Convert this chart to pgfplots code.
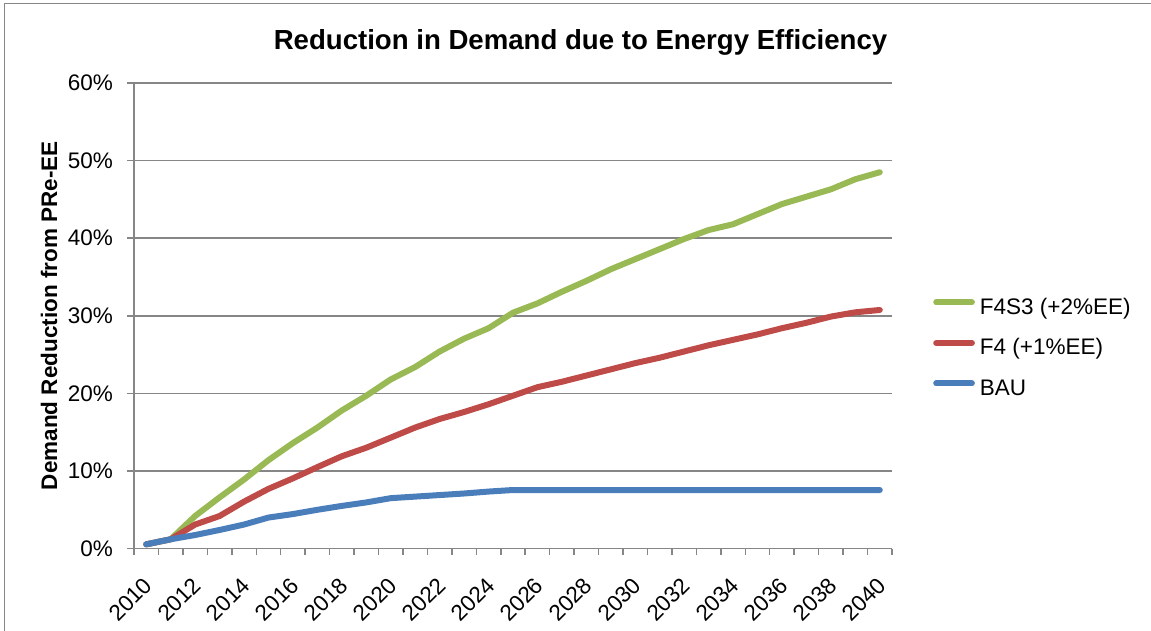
\documentclass[border=0pt]{standalone}
\usepackage{pgfplots}
\pgfplotsset{compat=1.18}
\usepackage{pgfplotstable}
\usepackage{fontspec}
\setmainfont{Liberation Sans}

\definecolor{gridgray}{HTML}{868686}
\definecolor{baublue}{HTML}{4A7EBB}
\definecolor{fourred}{HTML}{BE4B48}
\definecolor{fsgreen}{HTML}{98B954}

% Demand reduction (% of pre-EE demand) by scenario
\pgfplotstableread{
year bau   f4    f4s3
2010 0.55  0.55  0.55
2011 1.2   1.2   1.2
2012 1.75  3.1   4.2
2013 2.4   4.2   6.6
2014 3.1   6.05  8.9
2015 4.0   7.7   11.4
2016 4.45  9.05  13.6
2017 5.0   10.5  15.6
2018 5.5   11.9  17.8
2019 5.95  13.0  19.7
2020 6.5   14.3  21.8
2021 6.7   15.6  23.4
2022 6.9   16.7  25.4
2023 7.1   17.6  27.05
2024 7.35  18.6  28.4
2025 7.55  19.7  30.4
2026 7.55  20.8  31.6
2027 7.55  21.5  33.1
2028 7.55  22.3  34.5
2029 7.55  23.1  36.0
2030 7.55  23.9  37.3
2031 7.55  24.6  38.6
2032 7.55  25.4  39.9
2033 7.55  26.2  41.05
2034 7.55  26.9  41.8
2035 7.55  27.6  43.1
2036 7.55  28.4  44.4
2037 7.55  29.1  45.35
2038 7.55  29.9  46.3
2039 7.55  30.45 47.6
2040 7.55  30.75 48.5
}\demand

\newcommand\chartfont{\fontsize{22.5}{27}\selectfont}
\newcommand\titlefont{\fontsize{27.6}{33}\selectfont\bfseries}

\begin{document}
\chartfont
\begin{tikzpicture}[x=1pt, y=1pt]
\path[use as bounding box] (0,0) rectangle (1151,631);
% chart frame (left and top edges)
\draw[gridgray, line width=1.5pt] (4.5,0) -- (4.5,627.5) -- (1151,627.5);
\begin{axis}[
  at={(134pt,82.4pt)}, anchor=south west,
  scale only axis, width=758pt, height=465.6pt,
  xmin=2009.5, xmax=2040.5, ymin=0, ymax=60,
  clip=false,
  axis x line*=bottom, axis y line*=left,
  axis line style={gridgray, line width=1.5pt},
  xtick={2010,2012,...,2040},
  xticklabels={2010,2012,2014,2016,2018,2020,2022,2024,2026,2028,2030,2032,2034,2036,2038,2040},
  minor xtick={2009.5,2010.5,...,2040.5},
  major x tick style={draw=none},
  minor x tick style={gridgray, line width=1.5pt},
  minor tick length=6pt,
  ytick={0,10,...,60},
  yticklabels={0\%,10\%,20\%,30\%,40\%,50\%,60\%},
  major y tick style={gridgray, line width=1.5pt},
  major tick length=7pt,
  tick align=outside,
  ymajorgrids,
  grid style={gridgray, line width=1.5pt},
  xticklabel style={xshift=2pt, yshift=-26pt, rotate=45, anchor=east, inner sep=0pt},
  yticklabel style={anchor=east, inner sep=0pt, xshift=-14pt},
  title={Reduction in Demand due to Energy Efficiency},
  title style={at={(rel axis cs:0.589,1.058)}, anchor=base, inner sep=0pt, font=\titlefont},
  ylabel={Demand Reduction from PRe-EE},
  ylabel style={at={(rel axis cs:-0.1121,0.5)}, anchor=center, font=\chartfont\bfseries},
  legend style={draw=none, fill=none, at={(rel axis cs:1.0541,0.4287)}, anchor=west,
    inner sep=0pt, row sep=16.5pt, column sep=5pt,
    nodes={inner sep=0pt, text height=18pt, text depth=6pt, anchor=west}},
  legend cell align=left,
  legend image code/.code={\draw[#1, line width=6pt, line cap=round] (0pt,6pt) -- (35.7pt,6pt);},
  every axis plot/.append style={line width=6pt, line cap=round, line join=round, mark=none},
]
\addplot[fsgreen] table[x=year, y=f4s3] {\demand};
\addlegendentry{F4S3 (+2\%EE)}
\addplot[fourred] table[x=year, y=f4] {\demand};
\addlegendentry{F4 (+1\%EE)}
\addplot[baublue] table[x=year, y=bau] {\demand};
\addlegendentry{BAU}
\end{axis}
\end{tikzpicture}
\end{document}
